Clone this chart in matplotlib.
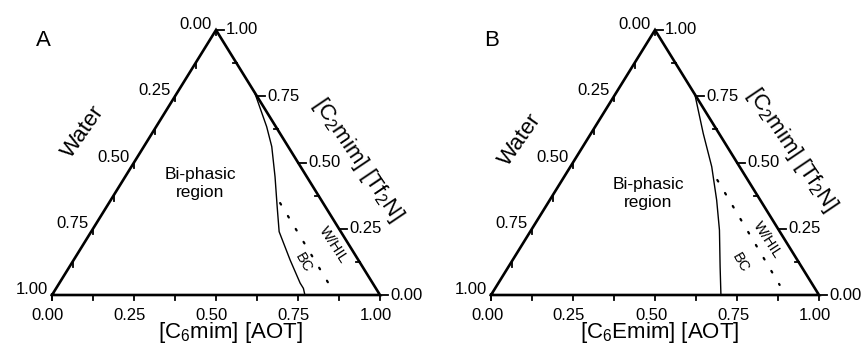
import numpy as np
import matplotlib.pyplot as plt

plt.rcParams['font.family'] = ['Liberation Sans', 'DejaVu Sans']
plt.rcParams['mathtext.default'] = 'regular'

tick_vals = [0.0, 0.25, 0.5, 0.75, 1.0]
tick_labels = ['0.00', '0.25', '0.50', '0.75', '1.00']
minor_vals = [0.125, 0.375, 0.625, 0.875]

# binodal (solid) and BC / W/HIL boundary (dotted), as fractions of
# the AOT ionic liquid and of [C2mim][Tf2N]
a_bin_aot = [0.235, 0.337, 0.390, 0.457, 0.520, 0.573, 0.660, 0.734, 0.754, 0.771]
a_bin_tf2n = [0.765, 0.635, 0.560, 0.446, 0.333, 0.239, 0.132, 0.045, 0.025, 0.0]
a_bc_aot = [0.522, 0.831]
a_bc_tf2n = [0.347, 0.034]

b_bin_aot = [0.243, 0.342, 0.431, 0.509, 0.574, 0.645, 0.701]
b_bin_tf2n = [0.757, 0.610, 0.484, 0.358, 0.245, 0.107, 0.0]
b_bc_aot = [0.473, 0.861]
b_bc_tf2n = [0.434, 0.038]

W, H, Y0 = 328, 265, 295  # triangle size in pixels


def to_px(x0, aot, tf2n):
    aot = np.asarray(aot)
    tf2n = np.asarray(tf2n)
    return x0 + W * (aot + tf2n / 2), Y0 - H * tf2n


def draw_panel(ax, x0, letter, xlabel, bin_aot, bin_tf2n, bc_aot, bc_tf2n, pos):
    # frame
    fx, fy = to_px(x0, [0, 1, 0, 0], [0, 0, 1, 0])
    ax.plot(fx, fy, color='black', lw=1.9, solid_joinstyle='miter')

    # bottom axis ticks
    for v in tick_vals + minor_vals:
        x, y = to_px(x0, v, 0)
        ax.plot([x, x], [y, y + 5], color='black', lw=1.3)
    for v, s in zip(tick_vals, tick_labels):
        x, y = to_px(x0, v, 0)
        ax.text(x - 4, y + 13, s, ha='center', va='top', fontsize=12)

    # left axis (water), 0 at top
    for v in tick_vals + minor_vals:
        x, y = to_px(x0, 0, 1 - v)
        ax.plot([x, x], [y, y + 5], color='black', lw=1.3)
    for v, s in zip(tick_vals, tick_labels):
        x, y = to_px(x0, 0, 1 - v)
        ax.text(x - 4, y - 1, s, ha='right', va='baseline', fontsize=12)

    # right axis ([C2mim][Tf2N])
    for v in tick_vals:
        x, y = to_px(x0, 1 - v, v)
        ax.plot([x, x + 8], [y, y], color='black', lw=1.3)
    for v in minor_vals:
        x, y = to_px(x0, 1 - v, v)
        ax.plot([x - 4, x], [y, y], color='black', lw=1.3)
    for v, s in zip(tick_vals, tick_labels):
        x, y = to_px(x0, 1 - v, v)
        ax.text(x + 10, y, s, ha='left', va='center', fontsize=12)

    # curves
    cx, cy = to_px(x0, bin_aot, bin_tf2n)
    ax.plot(cx, cy, color='black', lw=1.0)
    dx, dy = to_px(x0, bc_aot, bc_tf2n)
    ax.plot(dx, dy, color='black', lw=1.6, linestyle=(0, (0.8, 6)),
            dash_capstyle='round')

    # labels
    ax.text(*pos['letter'], letter, ha='center', va='center', fontsize=16)
    ax.text(*pos['water'], 'Water', ha='center', va='center', fontsize=16,
            rotation=55)
    ax.text(*pos['right'], '[C$_2$mim] [Tf$_2$N]', ha='center', va='center',
            fontsize=16, rotation=-56, rotation_mode='anchor')
    ax.text(*pos['bottom'], xlabel, ha='center', va='baseline', fontsize=16)
    ax.text(*pos['region'], 'Bi-phasic\nregion', ha='center', va='center',
            fontsize=12.5, linespacing=1.25)
    ax.text(*pos['whil'], 'W/HIL', ha='center', va='center', fontsize=10.5,
            rotation=-57)
    ax.text(*pos['bc'], 'BC', ha='center', va='center', fontsize=10.5,
            rotation=-60)


fig = plt.figure(figsize=(8.67, 3.46), dpi=100)
ax = fig.add_axes([0, 0, 1, 1])
ax.set_xlim(0, 867)
ax.set_ylim(346, 0)
ax.axis('off')

draw_panel(ax, 52, 'A', '[C$_6$mim] [AOT]', a_bin_aot, a_bin_tf2n,
           a_bc_aot, a_bc_tf2n,
           dict(letter=(43, 41), water=(83, 132), right=(358, 160),
                bottom=(230, 338), region=(200, 183), whil=(333, 245),
                bc=(303, 263)))
draw_panel(ax, 491, 'B', '[C$_6$Emim] [AOT]', b_bin_aot, b_bin_tf2n,
           b_bc_aot, b_bc_tf2n,
           dict(letter=(492, 41), water=(520, 140), right=(792, 150),
                bottom=(660, 338), region=(648, 194), whil=(767, 240),
                bc=(740, 263)))

fig.savefig('out.png', dpi=100)
